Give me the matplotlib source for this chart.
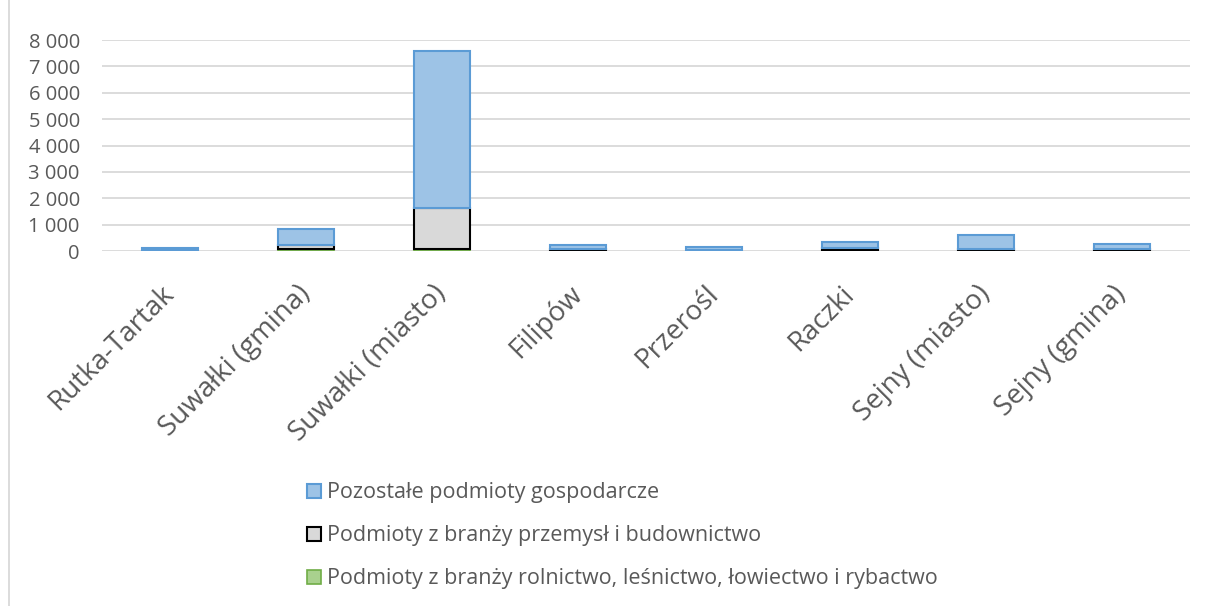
import matplotlib
matplotlib.use("Agg")
import matplotlib.pyplot as plt
from matplotlib.lines import Line2D
from matplotlib.ticker import FuncFormatter, MultipleLocator
import numpy as np

plt.rcParams['font.family'] = ['Open Sans', 'DejaVu Sans']

categories = ["Rutka-Tartak", "Suwałki (gmina)", "Suwałki (miasto)", "Filipów",
              "Przerośl", "Raczki", "Sejny (miasto)", "Sejny (gmina)"]
rolnictwo = [30, 60, 60, 40, 30, 40, 20, 40]
przemysl = [20, 170, 1570, 30, 20, 60, 60, 30]
pozostale = [70, 600, 5950, 160, 110, 260, 540, 200]

series_labels = ["Podmioty z branży rolnictwo, leśnictwo, łowiectwo i rybactwo",
                 "Podmioty z branży przemysł i budownictwo",
                 "Pozostałe podmioty gospodarcze"]

text_color = "#595959"
grid_color = "#D9D9D9"

fig = plt.figure(figsize=(12.06, 6.06), dpi=100)
ax = fig.add_axes([102 / 1206, 1 - 251 / 606, (1190 - 102) / 1206, (251 - 40) / 606])

x = np.arange(len(categories))
w = 0.41
b1 = ax.bar(x, rolnictwo, w, color="#A9D18E", edgecolor="#70AD47", linewidth=1.2,
            label=series_labels[0], zorder=3)
bottom2 = np.array(rolnictwo)
b2 = ax.bar(x, przemysl, w, bottom=bottom2, color="#D9D9D9", edgecolor="black",
            linewidth=1.5, label=series_labels[1], zorder=3)
bottom3 = bottom2 + np.array(przemysl)
b3 = ax.bar(x, pozostale, w, bottom=bottom3, color="#9DC3E6", edgecolor="#5B9BD5",
            linewidth=1.5, label=series_labels[2], zorder=3)

ax.set_xlim(-0.5, len(categories) - 0.5)
ax.set_ylim(0, 8000)
ax.yaxis.set_major_locator(MultipleLocator(1000))
ax.yaxis.set_major_formatter(FuncFormatter(lambda v, p: f"{int(v):,}".replace(",", " ")))
ax.grid(axis="y", color=grid_color, linewidth=1.3, zorder=0)
ax.set_axisbelow(True)
for s in ax.spines.values():
    s.set_visible(False)
ax.tick_params(axis="both", length=0, colors=text_color)
ax.tick_params(axis="y", labelsize=14.5, pad=16)
ax.set_xticks(x)
ax.set_xticklabels(categories, rotation=45, ha="right", va="center",
                   rotation_mode="anchor", fontsize=20, color=text_color)
ax.tick_params(axis="x", pad=28)

handles = [b3, b2, b1]
leg = fig.legend(handles, [series_labels[2], series_labels[1], series_labels[0]],
                 loc="upper left", bbox_to_anchor=(288 / 1206, 1 - 463 / 606),
                 frameon=False, fontsize=15.5, labelcolor=text_color,
                 handlelength=0.63, handleheight=0.63, handletextpad=0.3,
                 labelspacing=1.02)

fig.add_artist(Line2D([8.5 / 1206, 8.5 / 1206], [0, 1], transform=fig.transFigure,
                      color=grid_color, linewidth=1.3))

fig.savefig("out.png", dpi=100)
